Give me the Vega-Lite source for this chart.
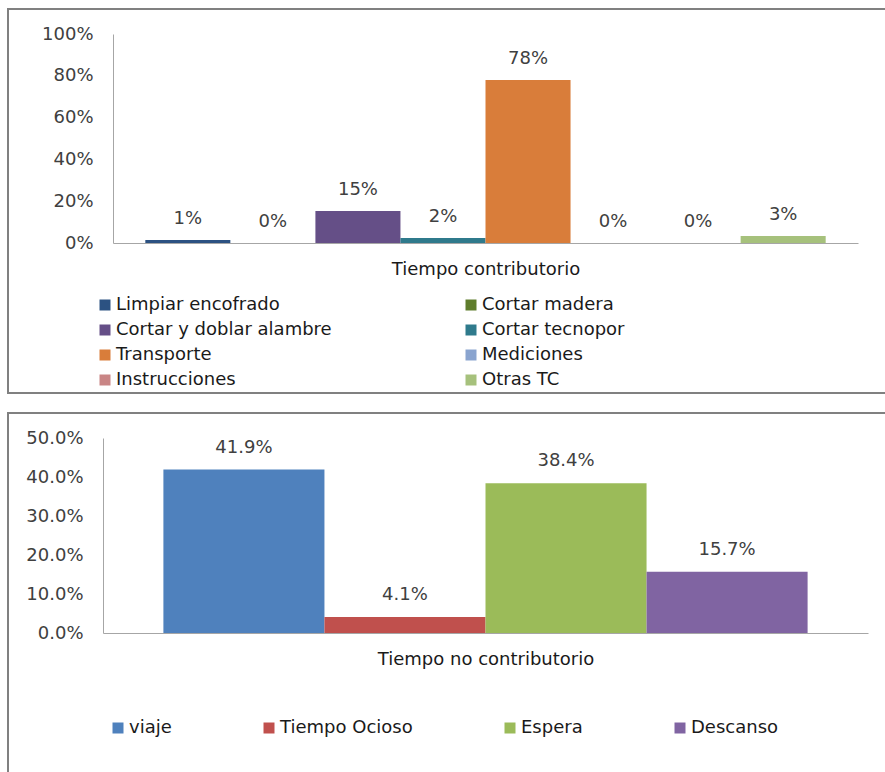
{
  "$schema": "https://vega.github.io/schema/vega-lite/v6.json",
  "padding": {"left": 7, "top": 8, "right": -4, "bottom": -4},
  "background": "white",
  "config": {
    "font": "DejaVu Sans",
    "view": {"stroke": "#808080", "strokeWidth": 2},
    "concat": {"spacing": 18},
    "axis": {
      "grid": false,
      "ticks": false,
      "domainColor": "#a6a6a6",
      "labelFontSize": 18,
      "labelColor": "#404040",
      "titleFontSize": 18,
      "titleFontWeight": "normal",
      "titleColor": "#1a1a1a",
      "labelPadding": 20
    },
    "legend": {
      "title": null,
      "symbolType": "square",
      "symbolSize": 121,
      "symbolStrokeWidth": 0,
      "labelFontSize": 18,
      "labelColor": "#1a1a1a",
      "labelLimit": 400,
      "padding": 0
    }
  },
  "resolve": {
    "scale": {"x": "independent", "y": "independent", "color": "independent"},
    "legend": {"color": "independent"}
  },
  "vconcat": [
    {
      "width": 880,
      "height": 384,
      "data": {
        "values": [
          {"actividad": "Limpiar encofrado", "porcentaje": 0.014},
          {"actividad": "Cortar madera", "porcentaje": 0},
          {"actividad": "Cortar y doblar alambre", "porcentaje": 0.153},
          {"actividad": "Cortar tecnopor", "porcentaje": 0.024},
          {"actividad": "Transporte", "porcentaje": 0.78},
          {"actividad": "Mediciones", "porcentaje": 0},
          {"actividad": "Instrucciones", "porcentaje": 0},
          {"actividad": "Otras TC", "porcentaje": 0.034}
        ]
      },
      "encoding": {
        "x": {
          "field": "actividad",
          "type": "nominal",
          "sort": null,
          "scale": {"range": [105, 850], "paddingInner": 0, "paddingOuter": 0.38},
          "axis": {"labels": false, "title": "Tiempo contributorio", "offset": -150, "titlePadding": 17}
        },
        "y": {
          "field": "porcentaje",
          "type": "quantitative",
          "scale": {"domain": [0, 1], "range": [234, 25], "nice": false},
          "axis": {"values": [0, 0.2, 0.4, 0.6, 0.8, 1], "format": ".0%", "offset": -105, "title": null, "domain": true}
        }
      },
      "layer": [
        {
          "mark": {"type": "bar"},
          "encoding": {
            "color": {
              "field": "actividad",
              "type": "nominal",
              "sort": null,
              "scale": {
                "domain": ["Limpiar encofrado", "Cortar y doblar alambre", "Transporte", "Instrucciones", "Cortar madera", "Cortar tecnopor", "Mediciones", "Otras TC"],
                "range": ["#2c5282", "#654f87", "#d97d3a", "#c98585", "#5f7d2c", "#2f7a8c", "#8aa4cf", "#a6c17c"]
              },
              "legend": {
                "orient": "none",
                "legendX": 88,
                "legendY": 287,
                "direction": "vertical",
                "columns": 2,
                "columnPadding": 130,
                "rowPadding": 7,
                "labelOffset": 2
              }
            }
          }
        },
        {
          "mark": {"type": "text", "dy": -21, "fontSize": 18, "color": "#404040"},
          "encoding": {"text": {"field": "porcentaje", "type": "quantitative", "format": ".0%"}}
        }
      ]
    },
    {
      "width": 880,
      "height": 362,
      "data": {
        "values": [
          {"actividad": "viaje", "porcentaje": 0.419},
          {"actividad": "Tiempo Ocioso", "porcentaje": 0.041},
          {"actividad": "Espera", "porcentaje": 0.384},
          {"actividad": "Descanso", "porcentaje": 0.157}
        ]
      },
      "encoding": {
        "x": {
          "field": "actividad",
          "type": "nominal",
          "sort": null,
          "scale": {"range": [95, 860], "paddingInner": 0, "paddingOuter": 0.375},
          "axis": {"labels": false, "title": "Tiempo no contributorio", "offset": -142, "titlePadding": 17}
        },
        "y": {
          "field": "porcentaje",
          "type": "quantitative",
          "scale": {"domain": [0, 0.5], "range": [220, 25], "nice": false},
          "axis": {"values": [0, 0.1, 0.2, 0.3, 0.4, 0.5], "format": ".1%", "offset": -95, "title": null}
        }
      },
      "layer": [
        {
          "mark": {"type": "bar"},
          "encoding": {
            "color": {
              "field": "actividad",
              "type": "nominal",
              "sort": null,
              "scale": {
                "domain": ["viaje", "Tiempo Ocioso", "Espera", "Descanso"],
                "range": ["#4f81bd", "#c0504d", "#9bbb59", "#8064a2"]
              },
              "legend": {
                "orient": "none",
                "legendX": 101,
                "legendY": 306,
                "direction": "horizontal",
                "columnPadding": 88,
                "labelOffset": 2
              }
            }
          }
        },
        {
          "mark": {"type": "text", "dy": -22, "fontSize": 18, "color": "#404040"},
          "encoding": {"text": {"field": "porcentaje", "type": "quantitative", "format": ".1%"}}
        }
      ]
    }
  ]
}
